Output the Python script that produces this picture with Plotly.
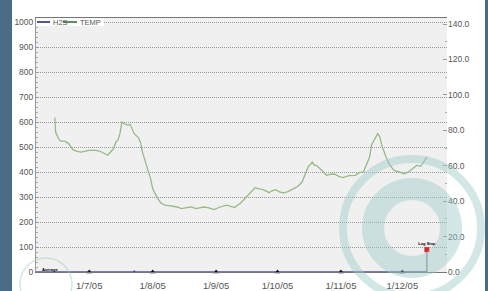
import plotly.graph_objects as go

# ---------------- data ----------------
temp_dates = [
    "2005-06-14 05:00", "2005-06-14 14:00", "2005-06-16", "2005-06-17", "2005-06-19",
    "2005-06-21", "2005-06-23", "2005-06-25", "2005-06-27", "2005-06-29",
    "2005-07-01", "2005-07-04", "2005-07-06", "2005-07-08", "2005-07-10",
    "2005-07-11", "2005-07-13", "2005-07-14", "2005-07-15", "2005-07-16",
    "2005-07-17", "2005-07-18", "2005-07-20", "2005-07-21", "2005-07-22",
    "2005-07-23", "2005-07-25", "2005-07-26", "2005-07-27", "2005-07-29",
    "2005-07-31", "2005-08-01", "2005-08-03", "2005-08-05", "2005-08-07",
    "2005-08-09", "2005-08-13", "2005-08-15", "2005-08-18", "2005-08-20",
    "2005-08-22", "2005-08-26", "2005-08-28", "2005-08-31", "2005-09-03",
    "2005-09-06", "2005-09-09", "2005-09-10", "2005-09-13", "2005-09-15",
    "2005-09-17", "2005-09-20", "2005-09-22", "2005-09-24", "2005-09-27",
    "2005-09-28", "2005-09-30", "2005-10-02", "2005-10-04", "2005-10-06",
    "2005-10-09", "2005-10-11", "2005-10-13", "2005-10-15", "2005-10-16",
    "2005-10-18", "2005-10-19", "2005-10-20", "2005-10-22", "2005-10-23",
    "2005-10-25", "2005-10-27", "2005-10-29", "2005-10-31", "2005-11-02",
    "2005-11-04", "2005-11-05", "2005-11-08", "2005-11-10", "2005-11-12",
    "2005-11-13", "2005-11-15", "2005-11-16", "2005-11-18", "2005-11-19",
    "2005-11-20", "2005-11-21", "2005-11-23", "2005-11-25", "2005-11-27",
    "2005-11-30", "2005-12-02", "2005-12-04", "2005-12-06", "2005-12-07",
    "2005-12-08", "2005-12-10", "2005-12-11", "2005-12-13",
]
temp_values = [
    87.2, 79.0, 75.3, 73.9, 73.9,
    72.5, 69.1, 68.1, 67.7, 68.3,
    68.7, 68.7, 68.3, 67.2, 65.9,
    67.2, 69.7, 73.4, 74.3, 78.1,
    84.7, 83.8, 82.8, 83.4, 80.9,
    78.1, 75.9, 73.4, 67.7, 60.2,
    52.7, 47.1, 42.3, 39.0, 37.7,
    37.5, 36.7, 35.8, 36.2, 36.8,
    35.8, 36.7, 36.4, 35.2, 36.7,
    37.7, 36.7, 36.4, 39.0, 41.4,
    44.3, 47.6, 46.9, 46.5, 44.8,
    45.7, 46.5, 45.2, 44.6, 45.4,
    47.1, 48.4, 50.8, 57.0, 59.3,
    62.1, 60.2, 60.2, 58.4, 57.0,
    54.6, 55.2, 55.2, 54.0, 53.3,
    54.0, 54.4, 54.6, 56.1, 56.5,
    59.3, 64.9, 71.9, 76.2, 78.1,
    76.2, 71.5, 64.9, 60.2, 57.4,
    56.5, 55.5, 56.5, 58.4, 59.3,
    60.2, 59.7, 61.2, 64.9,
]
h2s_dates = ["2005-06-05", "2005-12-13"]
h2s_values = [0, 0]

month_marker_dates = ["2005-07-01", "2005-08-01", "2005-09-01",
                      "2005-10-01", "2005-11-01", "2005-12-01"]
month_marker_values = [0, 0, 0, 0, 0, 0]
event_marker_dates = ["2005-07-23"]
event_marker_values = [0]

log_stop_date = "2005-12-13"
log_stop_value = 12.6

x_range = ["2005-06-05", "2005-12-22 20:00"]
left_range = [0, 1016]
right_range = [0, 143.4]

legend_labels = ["H2S", "TEMP"]

# ---------------- layout helpers ----------------
W, H = 488, 291
L, R, T, B = 36, 41, 18, 19
PW, PH = W - L - R, H - T - B


def px(x):
    return (x - L) / PW


def py(y):
    return (H - B - y) / PH


FONT = "Liberation Sans, Arial, sans-serif"
H2S_COLOR = "#55559f"
TEMP_COLOR = "#97b985"
TEMP_LEG = "#5f8d5f"
RING = "rgba(160,202,202,0.45)"

fig = go.Figure()

fig.add_trace(go.Scatter(x=temp_dates, y=temp_values, yaxis="y2", mode="lines",
                         line=dict(color=TEMP_COLOR, width=1.3), showlegend=False,
                         name="TEMP"))
fig.add_trace(go.Scatter(x=h2s_dates, y=h2s_values, yaxis="y", mode="lines",
                         line=dict(color=H2S_COLOR, width=1.3), showlegend=False,
                         name="H2S", cliponaxis=False))
fig.add_trace(go.Scatter(x=month_marker_dates, y=month_marker_values, yaxis="y",
                         mode="markers", cliponaxis=False, showlegend=False,
                         marker=dict(symbol="triangle-up", size=5, color="#111")))
fig.add_trace(go.Scatter(x=event_marker_dates, y=event_marker_values, yaxis="y",
                         mode="markers", cliponaxis=False, showlegend=False,
                         marker=dict(symbol="triangle-up", size=4, color="#4444cc")))
fig.add_trace(go.Scatter(x=[log_stop_date, log_stop_date], y=[0, log_stop_value],
                         yaxis="y2", mode="lines", showlegend=False,
                         line=dict(color="#666", width=1)))
fig.add_trace(go.Scatter(x=[log_stop_date], y=[log_stop_value], yaxis="y2",
                         mode="markers+text", showlegend=False, text=["<b>Log Stop</b>"],
                         textposition="top center",
                         textfont=dict(size=4, color="#000", family=FONT),
                         marker=dict(symbol="square", size=5, color="#e5242b")))

shapes = []
# side strips
shapes.append(dict(type="rect", xref="paper", yref="paper", x0=px(0), x1=px(12),
                   y0=py(H), y1=py(0), fillcolor="#4b6c84", line_width=0, layer="below"))
shapes.append(dict(type="rect", xref="paper", yref="paper", x0=px(485), x1=px(W),
                   y0=py(H), y1=py(0), fillcolor="#4b6c84", line_width=0, layer="below"))


def ring(cx, cy, r, w, color):
    return dict(type="circle", xref="paper", yref="paper",
                x0=px(cx - r), x1=px(cx + r), y0=py(cy + r), y1=py(cy - r),
                line=dict(color=color, width=w), fillcolor="rgba(0,0,0,0)", layer="above")


shapes.append(ring(412, 228, 69, 8, RING))
shapes.append(ring(412, 228, 39, 22, RING))
shapes.append(ring(46, 284, 26, 1.5, RING))

# manual legend
shapes.append(dict(type="rect", xref="paper", yref="paper", x0=px(36), x1=px(104),
                   y0=py(26), y1=py(18.5), fillcolor="white", line_width=0, layer="above"))
shapes.append(dict(type="line", xref="paper", yref="paper", x0=px(37), x1=px(50),
                   y0=py(22), y1=py(22), line=dict(color=H2S_COLOR, width=2)))
shapes.append(dict(type="line", xref="paper", yref="paper", x0=px(63), x1=px(77),
                   y0=py(22), y1=py(22), line=dict(color=TEMP_LEG, width=2)))

annotations = [
    dict(text=legend_labels[0], xref="paper", yref="paper", x=px(50.5), y=py(22.3),
         xanchor="left", yanchor="middle", showarrow=False,
         font=dict(size=7.5, color="#555", family=FONT)),
    dict(text=legend_labels[1], xref="paper", yref="paper", x=px(78), y=py(22.3),
         xanchor="left", yanchor="middle", showarrow=False,
         font=dict(size=7.5, color="#555", family=FONT)),
    dict(text="<b>Average</b>", xref="paper", yref="paper", x=px(40), y=py(269.5),
         xanchor="left", yanchor="middle", showarrow=False,
         font=dict(size=4, color="#000", family=FONT)),
]

fig.update_layout(
    width=W, height=H,
    margin=dict(l=L, r=R, t=T, b=B, pad=0, autoexpand=False),
    paper_bgcolor="white", plot_bgcolor="#f0f0f0",
    font=dict(family=FONT, color="#555"),
    showlegend=False,
    shapes=shapes, annotations=annotations,
    xaxis=dict(type="date", range=x_range, dtick="M1", tick0="2005-07-01",
               tickformat="%-d/%-m/%y", showgrid=False, zeroline=False,
               automargin=False,
               showline=True, linecolor="#777", linewidth=1, mirror=True,
               ticks="outside", ticklen=1, tickcolor="rgba(0,0,0,0)",
               ticklabelstandoff=4,
               tickfont=dict(size=9.5, color="#555", family=FONT)),
    yaxis=dict(range=left_range, dtick=100, tick0=0, showgrid=True,
               automargin=False,
               gridcolor="#999999", griddash="1px,1px", gridwidth=1, zeroline=False,
               showline=True, linecolor="#999", linewidth=1,
               ticks="inside", ticklen=3, tickcolor="#999",
               minor=dict(dtick=20, ticks="inside", ticklen=2, tickcolor="#aaa",
                          showgrid=False),
               tickfont=dict(size=8.5, color="#555", family=FONT)),
    yaxis2=dict(range=right_range, dtick=20, tick0=0, overlaying="y", side="right",
                automargin=False,
                tickformat=".1f", showgrid=False, zeroline=False, showline=False,
                ticks="inside", ticklen=4, tickcolor="#999",
                minor=dict(dtick=10, ticks="inside", ticklen=2, tickcolor="#aaa"),
                tickfont=dict(size=8.5, color="#555", family=FONT)),
)

fig.write_html(
    "out.html",
    config={"displayModeBar": False},
    post_script="document.body.style.margin='0';document.body.style.padding='0';"
                "document.body.style.overflow='hidden';",
)
